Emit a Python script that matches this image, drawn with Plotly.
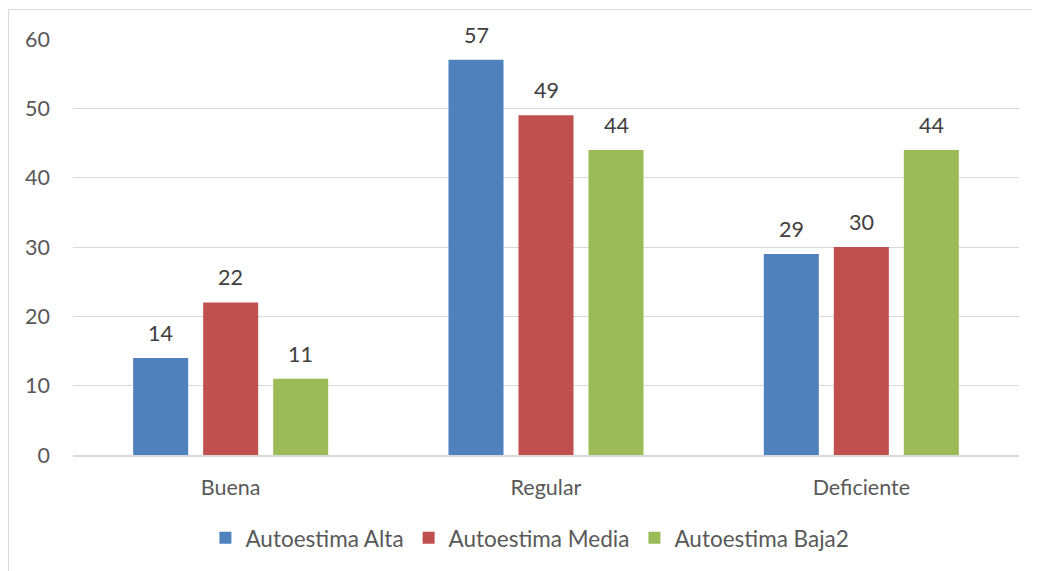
import plotly.graph_objects as go

categories = ["Buena", "Regular", "Deficiente"]
series_names = ["Autoestima Alta", "Autoestima Media", "Autoestima Baja2"]
alta = [14, 57, 29]
media = [22, 49, 30]
baja = [11, 44, 44]
y_ticks = [0, 10, 20, 30, 40, 50, 60]

colors = ["#4F81BD", "#C0504D", "#9BBB59"]
values = [alta, media, baja]
FONT = "Lato, Carlito, Calibri, sans-serif"
FS = 21.5

fig = go.Figure()
for name, vals, col in zip(series_names, values, colors):
    fig.add_trace(go.Bar(
        x=categories, y=vals, name=name,
        marker=dict(color=col, line=dict(width=0)),
    ))

# data labels above bars
offsets = [-70, 0, 70]
for vals, off in zip(values, offsets):
    for c, v in zip(categories, vals):
        fig.add_annotation(
            x=c, y=v, text=str(v), showarrow=False,
            xshift=off, yshift=25, yanchor="middle",
            font=dict(family=FONT, size=FS, color="#404040"),
        )

# chart border
fig.add_shape(type="rect", xref="paper", yref="paper",
              x0=-0.0682, x1=1.03, y0=-0.3, y1=1.0709,
              line=dict(color="#D9D9D9", width=1.2), layer="below")

fig.update_layout(
    width=1040, height=571,
    margin=dict(l=65, r=29, t=31, b=124),
    paper_bgcolor="white", plot_bgcolor="white",
    barmode="group", bargap=0.334, bargroupgap=0.214,
    font=dict(family=FONT, size=FS, color="#595959"),
    showlegend=True,
    legend=dict(orientation="h", x=0.483, xanchor="center", y=-0.2, yanchor="middle",
                font=dict(family=FONT, size=22.5, color="#595959"),
                itemwidth=30, traceorder="normal"),
    yaxis=dict(range=[0, 60], tickvals=y_ticks, showgrid=True, gridcolor="#D9D9D9",
               gridwidth=1, zeroline=False, showline=False, ticks="",
               ticklabelstandoff=22, tickfont=dict(size=FS, color="#595959")),
    xaxis=dict(showline=True, linecolor="#D9D9D9", linewidth=1.5, ticks="",
               ticklabelstandoff=12, tickfont=dict(size=FS, color="#595959")),
)

fig.write_html("out.html")
